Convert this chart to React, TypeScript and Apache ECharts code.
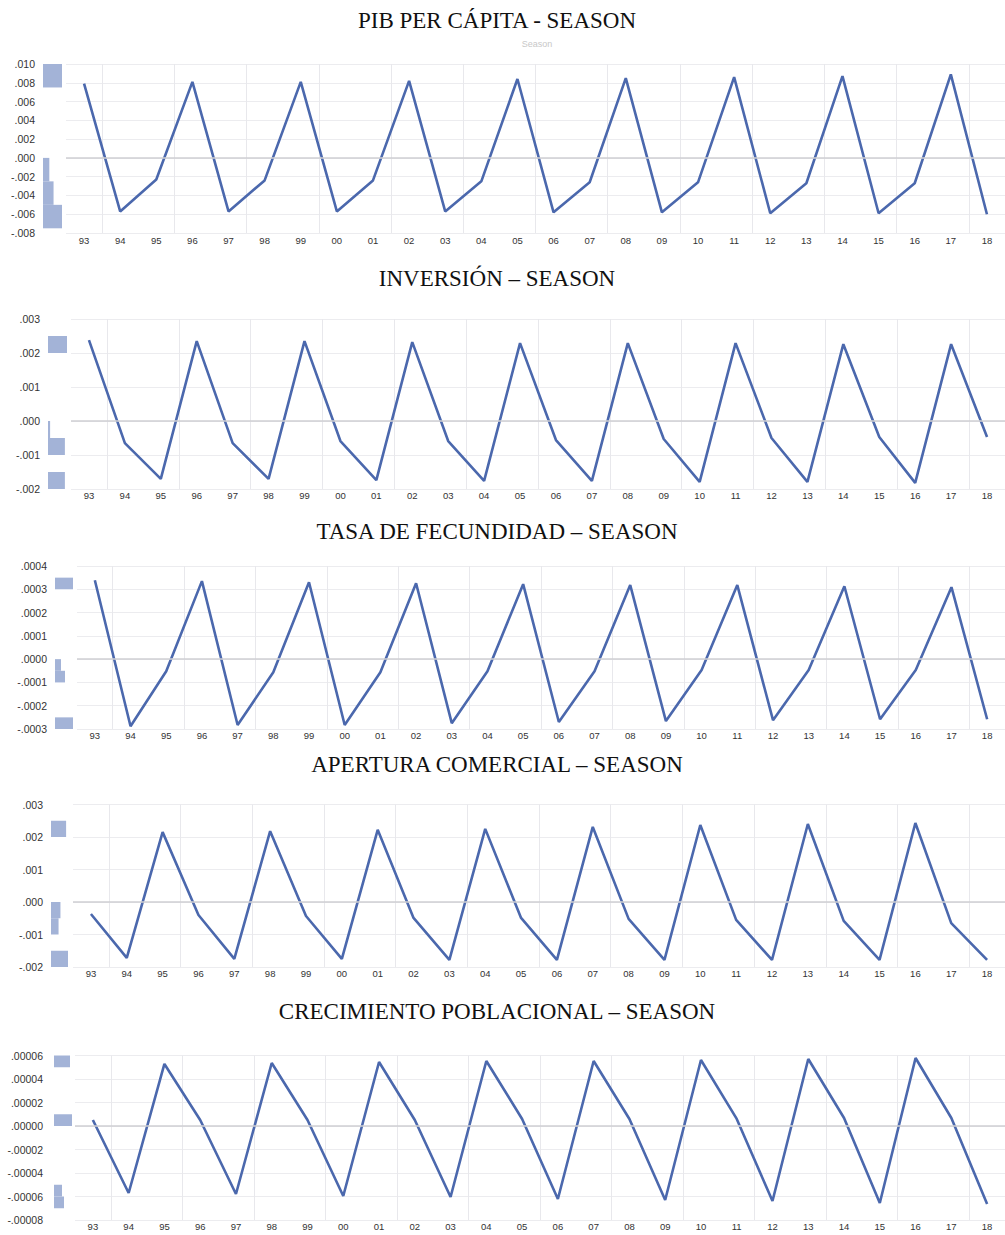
import React, { useEffect, useRef } from 'react';
import * as echarts from 'echarts';

const CATEGORIES = ['93','94','95','96','97','98','99','00','01','02','03','04','05','06','07','08','09','10','11','12','13','14','15','16','17','18'];

const PIB_VALUES = [0.0079,-0.0057,-0.0023,0.0081,-0.0057,-0.0024,0.0081,-0.0057,-0.0024,0.0082,-0.0057,-0.0025,0.0084,-0.0058,-0.0026,0.0085,-0.0058,-0.0026,0.0086,-0.0059,-0.0027,0.0087,-0.0059,-0.0027,0.0089,-0.0060];
const INV_VALUES = [0.00238,-0.00065,-0.0017,0.00235,-0.00065,-0.0017,0.00235,-0.00059,-0.00174,0.00232,-0.00059,-0.00176,0.00229,-0.00056,-0.00176,0.00229,-0.00053,-0.00179,0.00229,-0.0005,-0.00179,0.00226,-0.00047,-0.00182,0.00226,-0.00047];
const TASA_VALUES = [0.000339,-0.000288,-0.000052,0.000335,-0.000283,-0.000056,0.00033,-0.000283,-0.000056,0.000326,-0.000275,-0.000052,0.000322,-0.00027,-0.000052,0.000318,-0.000266,-0.000047,0.000318,-0.000262,-0.000047,0.000313,-0.000258,-0.000047,0.000309,-0.000258];
const AP_VALUES = [-0.00037,-0.00172,0.00215,-0.0004,-0.00175,0.00218,-0.00043,-0.00175,0.00222,-0.00049,-0.00178,0.00225,-0.00049,-0.00178,0.00231,-0.00052,-0.00178,0.00237,-0.00055,-0.00178,0.0024,-0.00058,-0.00178,0.00243,-0.00065,-0.00178];
const CREC_VALUES = [0.0000051,-0.000057,0.0000528,0.0000051,-0.0000579,0.0000536,0.0000051,-0.0000596,0.0000545,0.0000051,-0.0000604,0.0000553,0.000006,-0.0000621,0.0000553,0.000006,-0.000063,0.0000562,0.000006,-0.0000638,0.000057,0.0000068,-0.0000655,0.0000579,0.0000068,-0.0000664];

// histogram bins: [low, high, count]
const PIB_HIST = [[0.0075,0.010,9],[-0.0025,0,3],[-0.005,-0.0025,5],[-0.0075,-0.005,9]];
const INV_HIST = [[0.002,0.0025,9],[-0.0005,0,1],[-0.001,-0.0005,8],[-0.002,-0.0015,8]];
const TASA_HIST = [[0.0003,0.00035,9],[-0.00005,0,3],[-0.0001,-0.00005,5],[-0.0003,-0.00025,9]];
const AP_HIST = [[0.002,0.0025,8],[-0.0005,0,5],[-0.001,-0.0005,4],[-0.002,-0.0015,9]];
const CREC_HIST = [[0.00005,0.00006,8],[0,0.00001,9],[-0.00006,-0.00005,4],[-0.00007,-0.00006,5]];

const TITLES = ['PIB PER CÁPITA - SEASON','INVERSIÓN – SEASON','TASA DE FECUNDIDAD – SEASON','APERTURA COMERCIAL – SEASON','CRECIMIENTO POBLACIONAL – SEASON'];
const Y_MIN = [-0.008,-0.002,-0.0003,-0.002,-0.00008];
const Y_MAX = [0.010,0.003,0.0004,0.003,0.00006];
const Y_STEP = [0.002,0.001,0.0001,0.001,0.00002];
const Y_DECIMALS = [3,3,4,3,5];
const HIST_MAX = 9;

const SERIES_VALUES = [PIB_VALUES, INV_VALUES, TASA_VALUES, AP_VALUES, CREC_VALUES];
const SERIES_HIST = [PIB_HIST, INV_HIST, TASA_HIST, AP_HIST, CREC_HIST];

const LAYOUT = [
  { titleY: 20, top: 64, height: 169, histLeft: 43, histWidth: 19, left: 66, width: 942, labelMargin: 8, xMargin: 2 },
  { titleY: 278, top: 319, height: 170, histLeft: 48, histWidth: 19, left: 71, width: 945, labelMargin: 8, xMargin: 1 },
  { titleY: 531, top: 566, height: 163, histLeft: 55, histWidth: 18, left: 77, width: 934, labelMargin: 8, xMargin: 1 },
  { titleY: 764, top: 804.5, height: 162.5, histLeft: 51, histWidth: 17, left: 73, width: 935, labelMargin: 8, xMargin: 1 },
  { titleY: 1011, top: 1055.5, height: 164.5, histLeft: 54, histWidth: 18, left: 75, width: 933, labelMargin: 11, xMargin: 1 },
];

const LINE_COLOR = '#4b68ad';
const HIST_COLOR = '#a3b3d7';

function fmt(v: number, d: number, step: number) {
  const a = Math.abs(v);
  if (a < step * 1e-6) return '.' + '0'.repeat(d);
  const s = a.toFixed(d).replace(/^0/, '');
  return (v < 0 ? '-' : '') + s;
}

export default function App() {
  const ref = useRef<HTMLDivElement>(null);
  useEffect(() => {
    if (!ref.current) return;
    const chart = echarts.init(ref.current, null, { renderer: 'svg' });
    const grid: any[] = [];
    const xAxis: any[] = [];
    const yAxis: any[] = [];
    const series: any[] = [];
    const graphic: any[] = [];

    LAYOUT.forEach((L, i) => {
      const hg = grid.length;
      grid.push({ left: L.histLeft, top: L.top, width: L.histWidth, height: L.height });
      grid.push({ left: L.left, top: L.top, width: L.width, height: L.height });
      const mg = hg + 1;
      const d = Y_DECIMALS[i];
      const step = Y_STEP[i];
      xAxis.push({ type: 'value', gridIndex: hg, min: 0, max: HIST_MAX, show: false });
      yAxis.push({
        type: 'value', gridIndex: hg, min: Y_MIN[i], max: Y_MAX[i], interval: step,
        axisLine: { show: false }, axisTick: { show: false }, splitLine: { show: false },
        axisLabel: {
          show: true, margin: L.labelMargin, fontSize: 10.5, color: '#333',
          fontFamily: 'Liberation Sans, Arial, sans-serif', padding: [0, 0, 4, 0],
          formatter: (v: number) => fmt(v, d, step),
        },
      });
      xAxis.push({
        type: 'category', gridIndex: mg, data: CATEGORIES, boundaryGap: true,
        axisLine: { show: false }, axisTick: { show: false },
        axisLabel: { interval: 0, fontSize: 9.5, color: '#333', margin: L.xMargin, fontFamily: 'Liberation Sans, Arial, sans-serif' },
        splitLine: { show: true, interval: (idx: number) => idx % 2 === 1, lineStyle: { color: '#e8e8ec', width: 1 } },
      });
      yAxis.push({
        type: 'value', gridIndex: mg, min: Y_MIN[i], max: Y_MAX[i], interval: step,
        axisLine: { show: false }, axisTick: { show: false }, axisLabel: { show: false },
        splitLine: { show: true, lineStyle: { color: '#ececef', width: 1 } },
      });
      const ax = xAxis.length;
      series.push({
        type: 'custom', xAxisIndex: ax - 2, yAxisIndex: ax - 2,
        data: SERIES_HIST[i], encode: { x: 2, y: [0, 1] },
        renderItem: (params: any, api: any) => {
          const lo = api.value(0), hi = api.value(1), c = api.value(2);
          const p1 = api.coord([0, hi]);
          const p2 = api.coord([c, lo]);
          return { type: 'rect', shape: { x: p1[0], y: p1[1], width: p2[0] - p1[0], height: p2[1] - p1[1] }, style: { fill: HIST_COLOR } };
        },
      });
      series.push({
        type: 'line', xAxisIndex: ax - 1, yAxisIndex: ax - 1, data: [], z: 1,
        markLine: { silent: true, symbol: ['none', 'none'], label: { show: false },
          lineStyle: { color: '#cfcfd3', width: 1.5, type: 'solid' }, data: [{ yAxis: 0 }] },
      });
      series.push({
        type: 'line', xAxisIndex: ax - 1, yAxisIndex: ax - 1, data: SERIES_VALUES[i], z: 3,
        symbol: 'none', lineStyle: { color: LINE_COLOR, width: 2.6 }, itemStyle: { color: LINE_COLOR },
      });
      graphic.push({
        type: 'text', x: 497, y: L.titleY,
        style: { text: TITLES[i], fill: '#111', font: '23px "Liberation Serif", "Times New Roman", serif', textAlign: 'center', textVerticalAlign: 'middle' },
      });
    });
    graphic.push({
      type: 'text', x: 537, y: 44,
      style: { text: 'Season', fill: '#c8c8c8', font: '9px "Liberation Sans", Arial, sans-serif', textAlign: 'center', textVerticalAlign: 'middle' },
    });

    chart.setOption({ animation: false, backgroundColor: '#fff', grid, xAxis, yAxis, series, graphic });
    return () => chart.dispose();
  }, []);
  return <div ref={ref} style={{ position: 'absolute', left: 0, top: 0, width: 1005, height: 1235 }} />;
}
